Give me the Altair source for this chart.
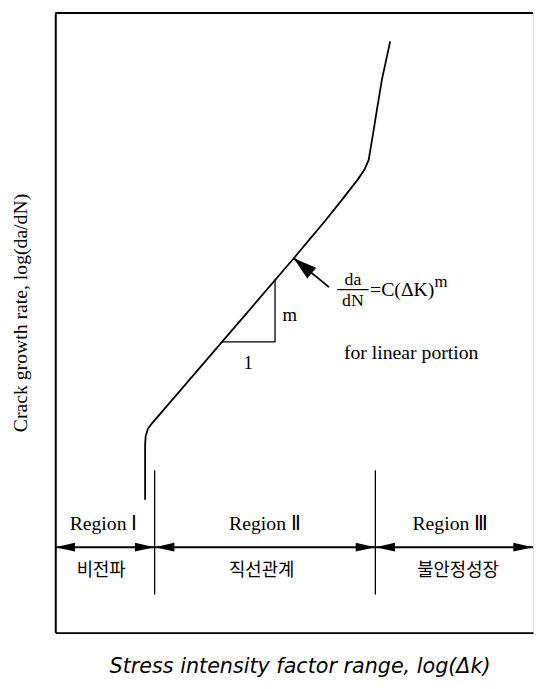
import math
import altair as alt
import pandas as pd

W, H = 485, 629

# schematic log-log coordinates
curve_x = [18.8, 18.8, 18.9, 19.4, 20.2, 49.7, 56.5, 60.0, 63.3, 64.7, 65.6, 66.4, 67.4, 68.4, 69.3, 70.1]
curve_y = [20.8, 29.6, 31.1, 32.4, 33.2, 59.9, 66.2, 69.6, 72.9, 74.5, 76.1, 79.8, 84.6, 89.3, 92.5, 95.4]

slope_tri_x = [34.8, 46.0, 46.0]
slope_tri_y = [46.5, 46.5, 56.6]

region_bounds = [0.0, 20.8, 67.0, 100.0]
region_labels = ["Region Ⅰ", "Region Ⅱ", "Region Ⅲ"]
region_label_x = [10.1, 43.9, 82.7]
region_label_y = 16.8
korean_labels = ["비전파", "직선관계", "불안정성장"]
korean_x = [9.6, 43.2, 84.3]
korean_y = 9.2
arrow_row_y = 13.1
divider_y = [5.4, 25.6]

pointer_tip = [49.9, 60.1]
pointer_tail = [57.3, 55.4]

formula_frac_x = 62.3
formula_num_y = 56.6
formula_den_y = 53.2
formula_bar_x = [59.0, 65.6]
formula_bar_y = 55.0
formula_rhs_x = 65.9
formula_rhs_y = 55.0
formula_sup_x = 79.4
formula_sup_y = 56.3

note_x, note_y = 74.5, 44.6
m_label = [49.1, 50.8]
one_label = [40.4, 43.0]

xs = alt.Scale(domain=[0, 100], nice=False, zero=False)
ys = alt.Scale(domain=[-0.8, 100], nice=False, zero=False)

x_axis = alt.Axis(
    title="Stress intensity factor range, log(Δk)", labels=False, ticks=False, grid=False,
    domain=True, domainColor="black", domainWidth=2,
    titleFont="DejaVu Sans", titleFontSize=21, titleFontStyle="italic", titleFontWeight="normal",
    titleColor="black", titleX=248, titleY=35, titleBaseline="middle", titleAlign="center")
y_axis = alt.Axis(
    title="Crack growth rate, log(da/dN)", labels=False, ticks=False, grid=False,
    domain=True, domainColor="black", domainWidth=2,
    titleFont="Liberation Serif", titleFontSize=20, titleFontWeight="normal", titleColor="black",
    titleAngle=270, titleX=-35, titleY=304, titleBaseline="middle", titleAlign="center")


def X(f="x"):
    return alt.X(f, type="quantitative", scale=xs, axis=x_axis)


def Y(f="y"):
    return alt.Y(f, type="quantitative", scale=ys, axis=y_axis)


curve_df = pd.DataFrame({"x": curve_x, "y": curve_y, "i": range(len(curve_x))})
curve = alt.Chart(curve_df).mark_line(color="black", strokeWidth=1.8).encode(
    x=X(), y=Y(), order="i:Q")

tri_df = pd.DataFrame({"x": slope_tri_x, "y": slope_tri_y, "i": range(3)})
tri = alt.Chart(tri_df).mark_line(color="black", strokeWidth=1.3).encode(
    x=X(), y=Y(), order="i:Q")

top_df = pd.DataFrame({"x": [0.0], "x2": [100.0], "y": [100.0]})
top = alt.Chart(top_df).mark_rule(color="black", strokeWidth=2).encode(
    x=X(), x2="x2", y=Y())

div_df = pd.DataFrame({"x": region_bounds[1:3], "y": [divider_y[0]] * 2, "y2": [divider_y[1]] * 2})
dividers = alt.Chart(div_df).mark_rule(color="black", strokeWidth=1.3).encode(
    x=X(), y=Y(), y2="y2")

shaft_df = pd.DataFrame({"x": region_bounds[:-1], "x2": region_bounds[1:], "y": [arrow_row_y] * 3})
shafts = alt.Chart(shaft_df).mark_rule(color="black", strokeWidth=2).encode(
    x=X(), x2="x2", y=Y())

right_path = "M0,0L-2,-0.45L-2,0.45Z"
left_path = "M0,0L2,-0.45L2,0.45Z"
rh_df = pd.DataFrame({"x": region_bounds[1:], "y": [arrow_row_y] * 3})
lh_df = pd.DataFrame({"x": region_bounds[:-1], "y": [arrow_row_y] * 3})
rheads = alt.Chart(rh_df).mark_point(shape=right_path, filled=True, size=400, color="black",
                                     opacity=1, strokeWidth=0).encode(x=X(), y=Y())
lheads = alt.Chart(lh_df).mark_point(shape=left_path, filled=True, size=400, color="black",
                                     opacity=1, strokeWidth=0).encode(x=X(), y=Y())

dx_px = (pointer_tip[0] - pointer_tail[0]) * W / 100
dy_px = -(pointer_tip[1] - pointer_tail[1]) * 6.24
ang = math.degrees(math.atan2(dy_px, dx_px)) % 360

ptr_df = pd.DataFrame({"x": [pointer_tail[0]], "y": [pointer_tail[1]],
                       "x2": [pointer_tip[0]], "y2": [pointer_tip[1]]})
ptr = alt.Chart(ptr_df).mark_rule(color="black", strokeWidth=1.8).encode(
    x=X(), y=Y(), x2="x2", y2="y2")
ptr_head = alt.Chart(pd.DataFrame({"x": [pointer_tip[0]], "y": [pointer_tip[1]]})).mark_point(
    shape="M0,0L-2,-0.6L-2,0.6Z", filled=True, size=560, color="black", opacity=1,
    strokeWidth=0, angle=ang).encode(x=X(), y=Y())

bar_df = pd.DataFrame({"x": [formula_bar_x[0]], "x2": [formula_bar_x[1]], "y": [formula_bar_y]})
frac_bar = alt.Chart(bar_df).mark_rule(color="black", strokeWidth=1.2).encode(
    x=X(), x2="x2", y=Y())

SERIF = "Liberation Serif"


def text_layer(xv, yv, labels, size, align="center", font=SERIF):
    df = pd.DataFrame({"x": xv, "y": yv, "t": labels})
    return alt.Chart(df).mark_text(font=font, fontSize=size, align=align, baseline="middle",
                                   color="black").encode(x=X(), y=Y(), text="t:N")


t_regions = text_layer(region_label_x, [region_label_y] * 3, region_labels, 20)
t_korean = text_layer(korean_x, [korean_y] * 3, korean_labels, 18, font="Noto Sans CJK KR")
t_frac = text_layer([formula_frac_x, formula_frac_x], [formula_num_y, formula_den_y], ["da", "dN"], 18)
t_rhs = text_layer([formula_rhs_x], [formula_rhs_y], ["=C(ΔK)"], 20, align="left")
t_sup = text_layer([formula_sup_x], [formula_sup_y], ["m"], 17, align="left")
t_note = text_layer([note_x], [note_y], ["for linear portion"], 20)
t_slope = text_layer([m_label[0], one_label[0]], [m_label[1], one_label[1]], ["m", "1"], 19)

chart = alt.layer(
    curve, tri, top, dividers, shafts, rheads, lheads, ptr, ptr_head, frac_bar,
    t_regions, t_korean, t_frac, t_rhs, t_sup, t_note, t_slope
).properties(
    width=W, height=H,
    padding={"left": 48, "top": 0, "right": 1, "bottom": 44},
    autosize=alt.AutoSizeParams(type="none"),
).configure_view(stroke=None).configure(background="white")

chart.save("out.html", embed_options={"renderer": "svg", "actions": False})
